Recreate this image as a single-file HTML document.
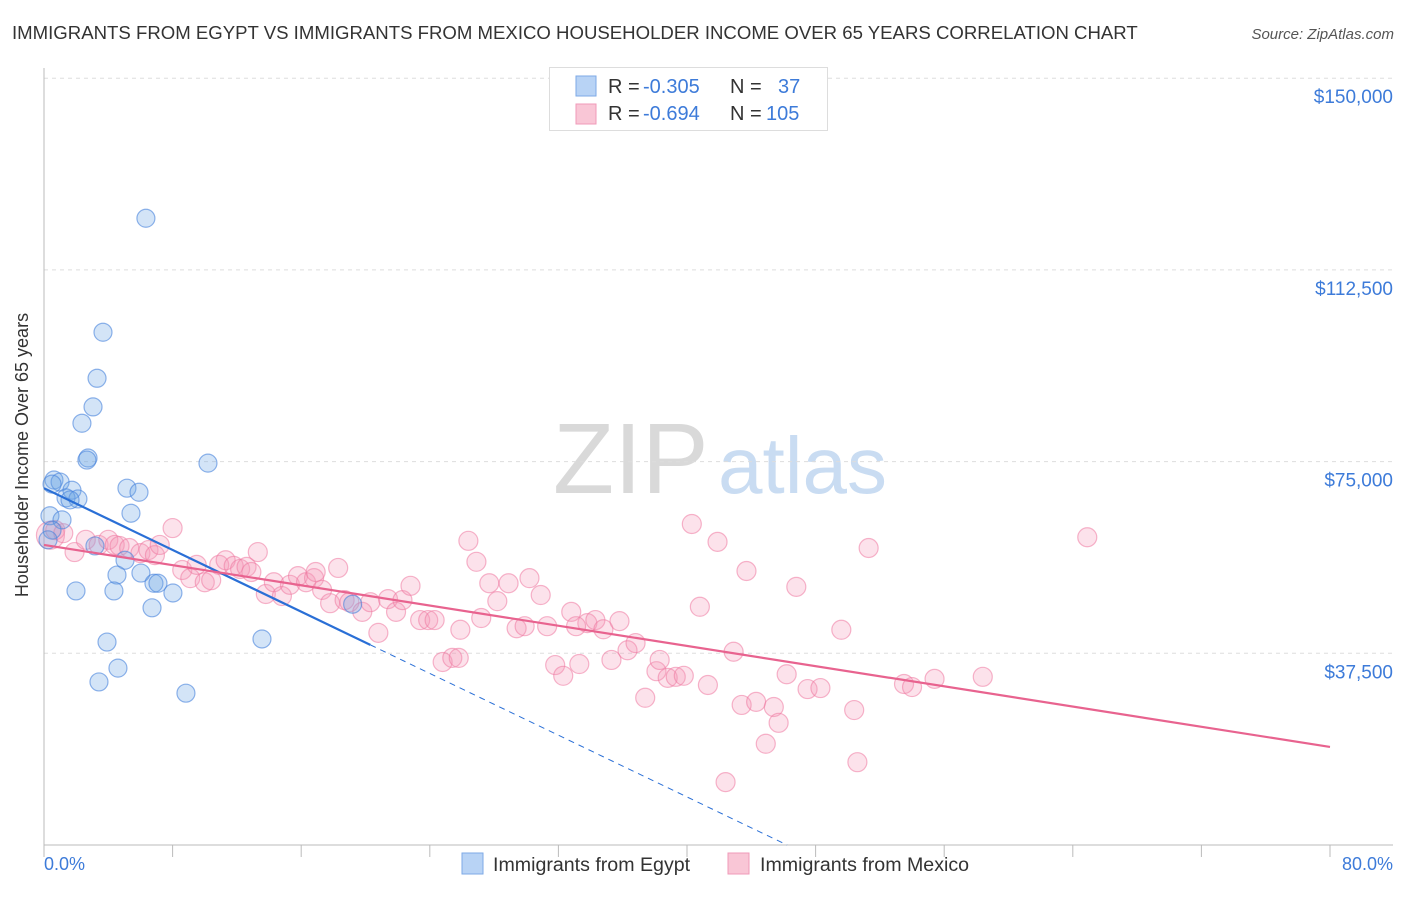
<!DOCTYPE html>
<html><head><meta charset="utf-8"><style>
body{margin:0;background:#fff;font-family:"Liberation Sans",sans-serif;}
svg text{font-family:"Liberation Sans",sans-serif;}
</style></head><body>
<svg width="1406" height="892" viewBox="0 0 1406 892">
<text x="12" y="39" font-size="18.6" fill="#333">IMMIGRANTS FROM EGYPT VS IMMIGRANTS FROM MEXICO HOUSEHOLDER INCOME OVER 65 YEARS CORRELATION CHART</text>
<text x="1394" y="39" font-size="15" fill="#555" font-style="italic" text-anchor="end">Source: ZipAtlas.com</text>
<g>
<text x="553" y="493" font-size="100" fill="#d9d9d9" font-family="Liberation Serif,serif">ZIP</text>
<text x="718" y="493" font-size="80" fill="#c9dcf2">atlas</text>
</g>
<g id="grid"></g>
<line x1="44" y1="68" x2="44" y2="845" stroke="#bbb"/>
<line x1="44" y1="845" x2="1393" y2="845" stroke="#bbb"/>
<g id="xticks"></g>
<text x="28" y="455" font-size="18" fill="#333" text-anchor="middle" transform="rotate(-90 28 455)">Householder Income Over 65 years</text>
<text x="44" y="870" font-size="18" fill="#3d7bd9">0.0%</text>
<text x="1393" y="870" font-size="18" fill="#3d7bd9" text-anchor="end">80.0%</text>
<g id="marks"></g>
<g id="lines"></g>
<g>
<rect x="549.5" y="67.5" width="278" height="63" fill="#fff" stroke="#ddd"/>
<rect x="576" y="76" width="20" height="20" fill="#b8d3f5" stroke="#7eaae6"/>
<rect x="576" y="104" width="20" height="20" fill="#f9c6d6" stroke="#f09ab8"/>
<text x="608" y="93" font-size="20" fill="#333">R = <tspan fill="#3d7bd9" x="643">-0.305</tspan></text>
<text x="730" y="93" font-size="20" fill="#333">N = <tspan fill="#3d7bd9" x="778">37</tspan></text>
<text x="608" y="120" font-size="20" fill="#333">R = <tspan fill="#3d7bd9" x="643">-0.694</tspan></text>
<text x="730" y="120" font-size="20" fill="#333">N = <tspan fill="#3d7bd9" x="766">105</tspan></text>
</g>
<g>
<rect x="462" y="853" width="21" height="21" fill="#b8d3f5" stroke="#7eaae6"/>
<text x="493" y="871" font-size="19.6" fill="#333">Immigrants from Egypt</text>
</g>
<g>
<rect x="728" y="853" width="21" height="21" fill="#f9c6d6" stroke="#f09ab8"/>
<text x="760" y="871" font-size="19.6" fill="#333">Immigrants from Mexico</text>
</g>
</svg>
<script>
const yTicks=[37500,75000,112500,150000];
const yTickLabels=["$37,500","$75,000","$112,500","$150,000"];
const xTicks=[0,8,16,24,32,40,48,56,64,72,80];
const egyptX=[6.34,3.67,3.30,3.05,2.36,2.74,2.67,10.2,0.62,1.0,0.5,1.74,5.16,5.91,1.37,2.11,1.62,5.41,0.37,1.12,0.5,0.25,3.17,5.04,6.03,4.54,6.84,7.09,1.99,4.35,8.02,6.72,13.56,3.92,4.60,3.42,8.83,19.2];
const egyptY=[122.6,100.3,91.3,85.7,82.5,75.7,75.3,74.7,71.4,71.0,70.6,69.4,69.8,69.0,67.9,67.7,67.5,64.9,64.4,63.6,61.6,59.7,58.5,55.7,53.2,52.8,51.2,51.2,49.7,49.7,49.3,46.4,40.3,39.7,34.6,31.9,29.7,47.1];
const mexicoX=[0.4,0.7,1.9,1.2,2.6,3.4,4.0,4.4,4.7,5.3,6.0,6.5,6.9,7.2,8.0,8.6,9.1,9.5,10.0,10.4,10.9,11.3,11.8,12.2,12.6,12.9,13.3,13.8,14.3,14.8,15.3,15.8,16.3,16.8,17.3,17.8,18.3,18.7,19.0,19.8,20.3,20.8,21.4,21.9,22.3,22.8,23.4,23.9,24.3,24.8,25.4,25.8,26.4,26.9,27.2,27.7,28.2,28.9,29.4,29.9,30.2,30.9,31.3,31.8,32.3,32.8,33.3,33.8,34.3,34.8,35.3,35.8,36.3,36.8,37.4,38.1,38.3,38.8,39.3,39.8,40.3,40.8,41.3,41.9,42.9,43.4,43.7,44.3,44.9,45.4,45.7,46.2,46.8,47.5,48.3,49.6,50.4,50.6,51.3,53.5,54.0,55.4,58.4,64.9,42.4,33.1,25.9,16.9];
const mexicoY=[60.6,61.6,57.3,61.0,59.7,58.7,59.7,58.7,58.5,58.1,57.1,57.7,56.7,58.7,62.0,53.8,52.2,54.8,51.4,51.8,54.8,55.7,54.6,54.0,54.4,53.4,57.3,49.1,51.4,48.7,50.9,52.6,51.4,52.2,49.9,47.3,54.2,47.9,47.5,45.6,47.5,41.5,48.1,45.6,47.9,50.7,44.0,44.0,44.0,35.8,36.6,36.6,59.5,55.4,44.4,51.2,47.7,51.2,42.4,42.8,52.2,48.9,42.8,35.2,33.1,45.6,35.4,43.4,44.0,42.2,36.2,43.8,38.1,39.5,28.8,34.0,36.2,32.7,32.9,33.1,62.8,46.6,31.3,59.3,37.8,27.4,53.6,28.0,19.8,27.0,23.9,33.4,50.5,30.5,30.7,42.1,26.4,16.2,58.1,31.5,30.9,32.5,32.9,60.2,12.3,42.8,42.1,53.4];
const egyptTrend=[69.8,-1.51];
const mexicoTrend=[58.7,-0.494];
const NS='http://www.w3.org/2000/svg';
const X=v=>44+v/80*1286;
const Y=k=>845-k*1000/37500*191.7;
function mk(t,a,p){const e=document.createElementNS(NS,t);for(const k in a)e.setAttribute(k,a[k]);p.appendChild(e);return e;}
const grid=document.getElementById('grid');
yTicks.forEach((t,i)=>{const y=Y(t/1000);
const l=mk('line',{x1:44,x2:1393,y1:y,y2:y,stroke:'#ddd','stroke-dasharray':'4,4'},grid);


const tx=mk('text',{x:1393,y:y+25,'font-size':19,fill:'#3d7bd9','text-anchor':'end'},grid);tx.textContent=yTickLabels[i];

});
const xt=document.getElementById('xticks');
xTicks.forEach(t=>{const l=mk('line',{x1:X(t),x2:X(t),y1:845,y2:857,stroke:'#bbb'},xt);

});
const marks=document.getElementById('marks');
mexicoX.forEach((x,i)=>{const c=mk('circle',{cx:X(x),cy:Y(mexicoY[i]),r:i==0?14:9.5,fill:'rgba(244,150,182,0.28)',stroke:'rgba(238,120,160,0.55)','stroke-width':1.2},marks);

});
egyptX.forEach((x,i)=>{const c=mk('circle',{cx:X(x),cy:Y(egyptY[i]),r:9,fill:'rgba(110,165,230,0.3)',stroke:'rgba(70,130,220,0.6)','stroke-width':1.2},marks);

});
const ln=document.getElementById('lines');
const ex0=0,ex1=20.3,ex2=-egyptTrend[0]/egyptTrend[1];
const b1=mk('line',{x1:X(ex0),y1:Y(egyptTrend[0]),x2:X(ex1),y2:Y(egyptTrend[0]+egyptTrend[1]*ex1),stroke:'#2a6fd6','stroke-width':2.2},ln);


const b2=mk('line',{x1:X(ex1),y1:Y(egyptTrend[0]+egyptTrend[1]*ex1),x2:X(ex2),y2:Y(0),stroke:'#2a6fd6','stroke-width':1,'stroke-dasharray':'6,5'},ln);


const p1=mk('line',{x1:X(0),y1:Y(mexicoTrend[0]),x2:X(80),y2:Y(mexicoTrend[0]+mexicoTrend[1]*80),stroke:'#e8638f','stroke-width':2.2},ln);


</script>
</body></html>
